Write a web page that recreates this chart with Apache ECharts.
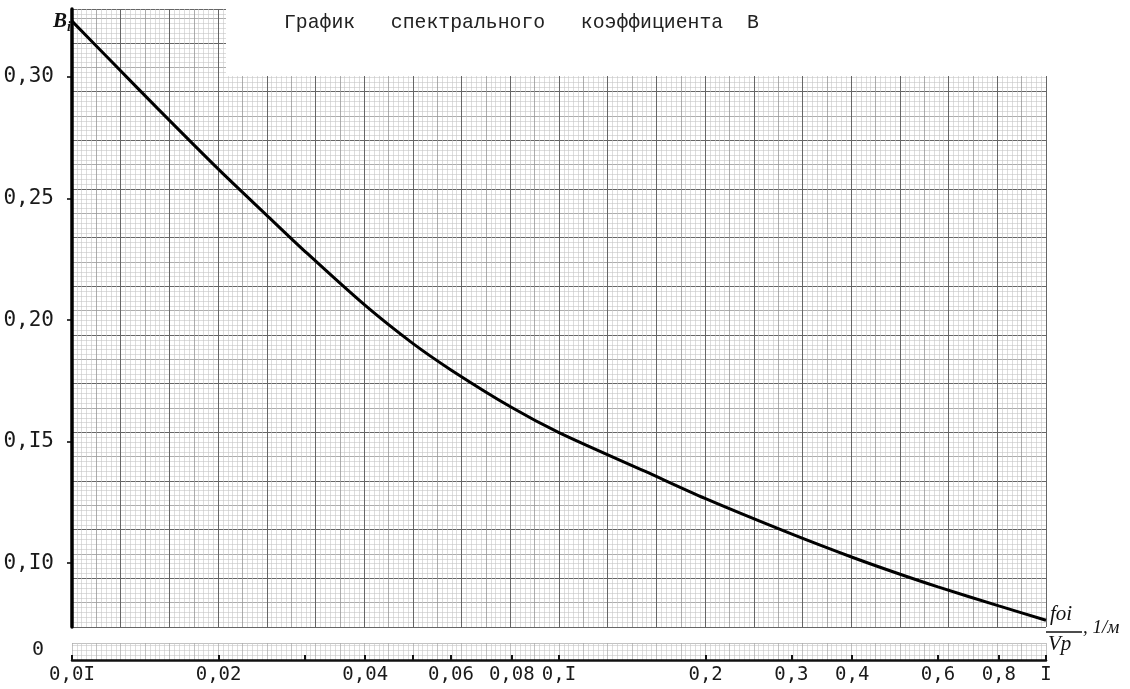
<!DOCTYPE html>
<html><head><meta charset="utf-8">
<script src="https://cdn.jsdelivr.net/npm/echarts@6/dist/echarts.min.js"></script>
<style>html,body{margin:0;padding:0;background:#fff}#c{width:1130px;height:689px}</style>
</head><body><div id="c"></div>
<script>
// Data
const freq  = [0.01, 0.012, 0.015, 0.02, 0.025, 0.03, 0.04, 0.05, 0.06, 0.08, 0.1, 0.15, 0.2, 0.3, 0.4, 0.5, 0.6, 0.8, 1.0];
const coefB = [0.323, 0.3068, 0.287, 0.262, 0.2435, 0.2285, 0.206, 0.1905, 0.1795, 0.164, 0.1537, 0.1378, 0.1265, 0.112, 0.1024, 0.0955, 0.0902, 0.0824, 0.0765];
const yTickValues = [0.10, 0.15, 0.20, 0.25, 0.30];
const yTickLabels = ['0,I0', '0,I5', '0,20', '0,25', '0,30'];
const xTickValues = [0.01, 0.02, 0.03, 0.04, 0.05, 0.06, 0.08, 0.1, 0.2, 0.3, 0.4, 0.6, 0.8, 1];
const xLabelValues = [0.01, 0.02, 0.04, 0.06, 0.08, 0.1, 0.2, 0.3, 0.4, 0.6, 0.8, 1];
const xLabelTexts  = ['0,0I', '0,02', '0,04', '0,06', '0,08', '0,I', '0,2', '0,3', '0,4', '0,6', '0,8', 'I'];
const titleText = 'График   спектрального   коэффициента  B';

const chart = echarts.init(document.getElementById('c'));
const hidden = {axisLine:{show:false}, axisTick:{show:false}, axisLabel:{show:false}};
function paperAxis(gridIndex, max, interval, color, width, minor) {
  return Object.assign({
    type:'value', gridIndex, min:0, max, interval,
    splitLine:{show:true, lineStyle:{color, width}},
    minorTick:{show:false, splitNumber:5},
    minorSplitLine:{show:!!minor, lineStyle:{color:'#c6c6c6', width:0.6}}
  }, hidden);
}
const lx = v => Math.log10(v);

chart.setOption({
  animation:false,
  backgroundColor:'#fff',
  grid:[
    {left:72, right:84, top:9, bottom:62},
    {left:72, right:84, top:643, bottom:29}
  ],
  xAxis:[
    Object.assign({type:'log', logBase:10, gridIndex:0, min:0.01, max:1, splitLine:{show:false}}, hidden),
    paperAxis(0, 200, 5, '#989898', 0.8, true),
    paperAxis(0, 200, 10, '#666', 1, false),
    {type:'value', gridIndex:1, min:-2, max:0, splitLine:{show:false},
     axisLine:{show:true, lineStyle:{color:'#111', width:2.5}},
     axisTick:{show:true, inside:true, length:5, lineStyle:{color:'#111', width:2},
               customValues:xTickValues.map(lx)},
     axisLabel:{show:true, customValues:xLabelValues.map(lx), margin:6,
                fontFamily:'DejaVu Sans Mono', fontSize:19, color:'#1a1a1a',
                formatter:v => { let i = xLabelValues.findIndex(t => Math.abs(lx(t) - v) < 1e-6); return i >= 0 ? xLabelTexts[i] : ''; }}},
    paperAxis(1, 200, 5, '#a8a8a8', 0.7, true)
  ],
  yAxis:[
    {type:'value', gridIndex:0, min:0.0737, max:0.328, splitLine:{show:false},
     axisLine:{show:true, lineStyle:{color:'#000', width:3.5}},
     axisTick:{show:true, length:5, lineStyle:{color:'#000', width:1.5}, customValues:yTickValues},
     axisLabel:{show:true, customValues:yTickValues, margin:18,
                fontFamily:'DejaVu Sans Mono', fontSize:21, color:'#1a1a1a',
                formatter:v => { let i = yTickValues.findIndex(t => Math.abs(t - v) < 1e-6); return i >= 0 ? yTickLabels[i] : ''; }}},
    paperAxis(0, 127, 5, '#989898', 0.8, true),
    paperAxis(0, 127, 10, '#666', 1, false),
    {type:'value', gridIndex:1, min:0, max:1, splitLine:{show:false},
     axisLine:{show:false}, axisTick:{show:false},
     axisLabel:{show:true, customValues:[0], verticalAlign:'bottom', margin:28,
                fontFamily:'DejaVu Sans Mono', fontSize:20, color:'#1a1a1a', formatter:() => '0'}},
    paperAxis(1, 3.5, 5, '#a8a8a8', 0.7, true)
  ],
  series:[{
    type:'line', xAxisIndex:0, yAxisIndex:0, smooth:0.3, symbol:'none', z:10,
    lineStyle:{color:'#000', width:3},
    data: freq.map((f, i) => [f, coefB[i]])
  }],
  graphic:[
    {type:'rect', z:5, shape:{x:226, y:0, width:904, height:76}, style:{fill:'#fff'}},
    {type:'text', z:6, left:284, top:13,
     style:{text:titleText, fontFamily:'Liberation Mono', fontSize:19.8, fill:'#222'}},
    {type:'text', z:12, left:53, top:11,
     style:{text:'{b|B}{s|i}', rich:{b:{fontFamily:'Liberation Serif', fontSize:21, fontWeight:'bold', fontStyle:'italic', fill:'#111'},
                                 s:{fontFamily:'Liberation Serif', fontSize:14, fontStyle:'italic', fontWeight:'bold', fill:'#111', padding:[12,0,0,0]}}}},
    {type:'text', z:6, left:1050, top:604,
     style:{text:'foi', fontFamily:'Liberation Serif', fontStyle:'italic', fontSize:21, fill:'#111'}},
    {type:'line', z:6, shape:{x1:1046, y1:632, x2:1082, y2:632}, style:{stroke:'#111', lineWidth:1.5}},
    {type:'text', z:6, left:1048, top:634,
     style:{text:'Vp', fontFamily:'Liberation Serif', fontStyle:'italic', fontSize:21, fill:'#111'}},
    {type:'text', z:6, left:1083, top:618,
     style:{text:', 1/м', fontFamily:'Liberation Serif', fontStyle:'italic', fontSize:19, fill:'#111'}}
  ]
});
</script></body></html>
